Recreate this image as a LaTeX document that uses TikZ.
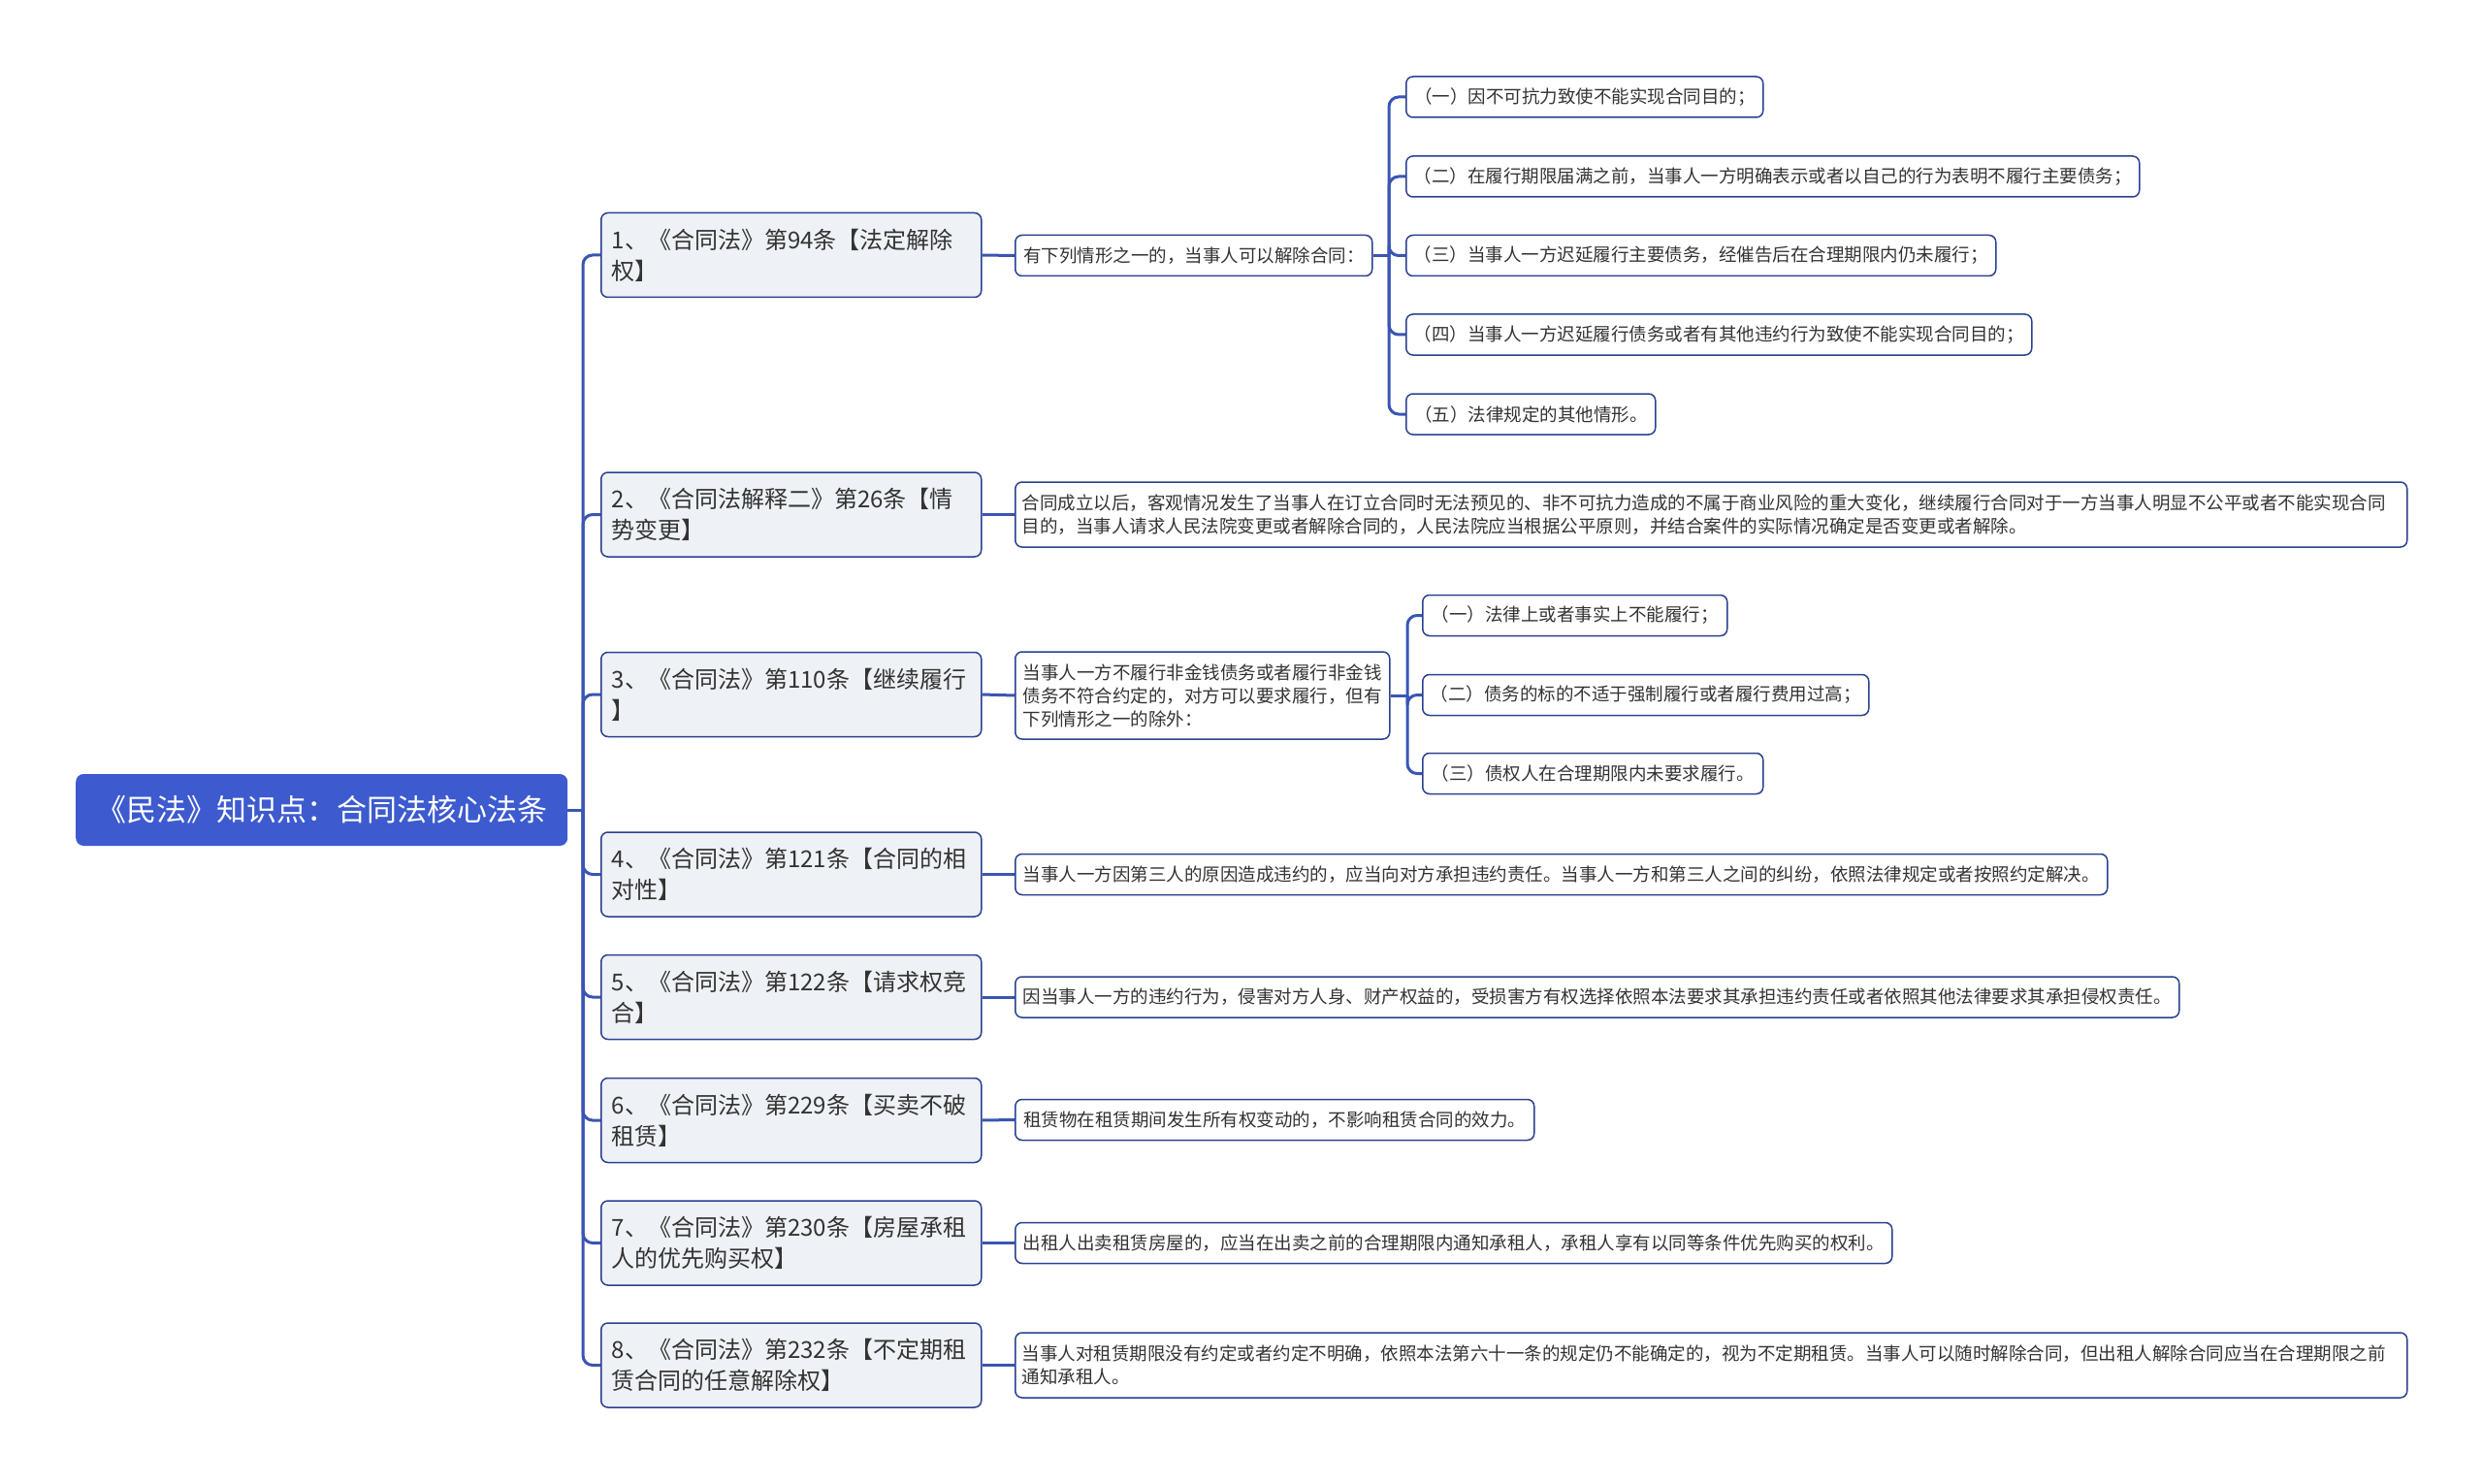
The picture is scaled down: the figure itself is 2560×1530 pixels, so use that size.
\documentclass[tikz,border=0pt]{standalone}
\usepackage{fontspec}
\setmainfont{Noto Sans CJK SC}
\definecolor{rootblue}{HTML}{3D5BCF}
\definecolor{linkblue}{HTML}{3A55B4}
\definecolor{bordblue}{HTML}{2B4190}
\definecolor{lvfill}{HTML}{EEF1F5}
\definecolor{txt}{HTML}{333333}
\begin{document}
\begin{tikzpicture}[x=1pt,y=-1pt,
  rootbox/.style={rounded corners=8pt, fill=rootblue, text=white, font=\fontsize{31}{38}\selectfont, minimum width=507pt, minimum height=74pt, anchor=west, inner sep=0pt},
  lvone/.style={rounded corners=7pt, fill=lvfill, draw=bordblue, line width=1.5pt, text=txt, font=\fontsize{24}{32}\selectfont, align=left, text width=370pt, inner xsep=11pt, minimum height=87pt, anchor=west},
  leaf/.style={rounded corners=7pt, fill=white, draw=bordblue, line width=1.5pt, text=txt, font=\fontsize{18.5}{24}\selectfont, align=left, inner xsep=8pt, minimum height=42pt, anchor=west},
  link/.style={draw=linkblue, line width=3pt, rounded corners=10pt},
]
\useasboundingbox[fill=white] (0,0) rectangle (2560,1530);

% root
\node[rootbox] (root) at (78,835) {《民法》知识点：合同法核心法条};

% level 1
\node[lvone] (b1) at (619,263) {1、《合同法》第94条【法定解除\\权】};
\node[lvone] (b2) at (619,530.5) {2、《合同法解释二》第26条【情\\势变更】};
\node[lvone] (b3) at (619,716) {3、《合同法》第110条【继续履行\\】};
\node[lvone] (b4) at (619,901.5) {4、《合同法》第121条【合同的相\\对性】};
\node[lvone] (b5) at (619,1028) {5、《合同法》第122条【请求权竞\\合】};
\node[lvone] (b6) at (619,1155) {6、《合同法》第229条【买卖不破\\租赁】};
\node[lvone] (b7) at (619,1281.5) {7、《合同法》第230条【房屋承租\\人的优先购买权】};
\node[lvone] (b8) at (619,1407.5) {8、《合同法》第232条【不定期租\\赁合同的任意解除权】};

% level 2
\node[leaf, minimum width=368pt] (c1) at (1046,263.5) {有下列情形之一的，当事人可以解除合同：};
\node[leaf, text width=1421pt, inner xsep=7pt, minimum height=67pt] (c2) at (1046,530.5) {合同成立以后，客观情况发生了当事人在订立合同时无法预见的、非不可抗力造成的不属于商业风险的重大变化，继续履行合同对于一方当事人明显不公平或者不能实现合同\\目的，当事人请求人民法院变更或者解除合同的，人民法院应当根据公平原则，并结合案件的实际情况确定是否变更或者解除。};
\node[leaf, minimum width=386pt, minimum height=90pt] (c3) at (1046,717) {当事人一方不履行非金钱债务或者履行非金钱\\债务不符合约定的，对方可以要求履行，但有\\下列情形之一的除外：};
\node[leaf, minimum width=1124pt] (c4) at (1046,901.5) {当事人一方因第三人的原因造成违约的，应当向对方承担违约责任。当事人一方和第三人之间的纠纷，依照法律规定或者按照约定解决。};
\node[leaf, minimum width=1196pt] (c5) at (1046,1028) {因当事人一方的违约行为，侵害对方人身、财产权益的，受损害方有权选择依照本法要求其承担违约责任或者依照其他法律要求其承担侵权责任。};
\node[leaf, minimum width=535pt] (c6) at (1046,1154.5) {租赁物在租赁期间发生所有权变动的，不影响租赁合同的效力。};
\node[leaf, minimum width=902pt] (c7) at (1046,1281.5) {出租人出卖租赁房屋的，应当在出卖之前的合理期限内通知承租人，承租人享有以同等条件优先购买的权利。};
\node[leaf, text width=1421pt, inner xsep=7pt, minimum height=67pt] (c8) at (1046,1407.5) {当事人对租赁期限没有约定或者约定不明确，依照本法第六十一条的规定仍不能确定的，视为不定期租赁。当事人可以随时解除合同，但出租人解除合同应当在合理期限之前\\通知承租人。};

% level 3 under c1
\node[leaf, minimum width=368pt] (g1) at (1449,100) {（一）因不可抗力致使不能实现合同目的；};
\node[leaf, minimum width=754pt] (g2) at (1449,182) {（二）在履行期限届满之前，当事人一方明确表示或者以自己的行为表明不履行主要债务；};
\node[leaf, minimum width=607pt] (g3) at (1449,263.5) {（三）当事人一方迟延履行主要债务，经催告后在合理期限内仍未履行；};
\node[leaf, minimum width=644pt] (g4) at (1449,345) {（四）当事人一方迟延履行债务或者有其他违约行为致使不能实现合同目的；};
\node[leaf, minimum width=257pt] (g5) at (1449,427) {（五）法律规定的其他情形。};

% level 3 under c3
\node[leaf, minimum width=314pt] (h1) at (1466,634.5) {（一）法律上或者事实上不能履行；};
\node[leaf, minimum width=460pt] (h2) at (1466,716.5) {（二）债务的标的不适于强制履行或者履行费用过高；};
\node[leaf, minimum width=351pt] (h3) at (1466,797.5) {（三）债权人在合理期限内未要求履行。};

% junctions
\coordinate (j0) at (601,835);
\coordinate (j1) at (1432,263.5);
\coordinate (j3) at (1451,717);

% connectors root -> level 1
\draw[link] (root.east) -- (j0);
\foreach \n in {b1,b2,b3,b4,b5,b6,b7,b8}{
  \draw[link] (j0) |- (\n.west);
}
% level 1 -> level 2
\foreach \a/\b in {b1/c1,b2/c2,b3/c3,b4/c4,b5/c5,b6/c6,b7/c7,b8/c8}{
  \draw[link] (\a.east) -- (\b.west);
}
% c1 -> g
\draw[link] (c1.east) -- (j1);
\foreach \n in {g1,g2,g3,g4,g5}{
  \draw[link] (j1) |- (\n.west);
}
% c3 -> h
\draw[link] (c3.east) -- (j3);
\foreach \n in {h1,h2,h3}{
  \draw[link] (j3) |- (\n.west);
}
\end{tikzpicture}
\end{document}
